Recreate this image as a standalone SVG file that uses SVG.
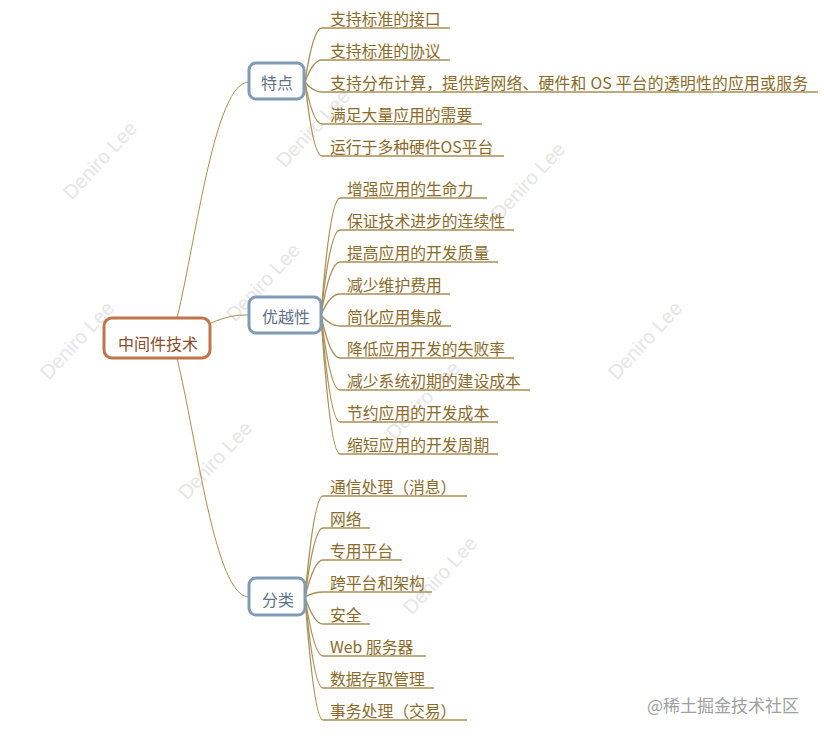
<svg xmlns="http://www.w3.org/2000/svg" width="824" height="736" viewBox="0 0 824 736">
<style>
.wm{font-family:"Liberation Sans",Arial,sans-serif;font-size:20px;fill:#e6e6e6}
.conn{fill:none;stroke:#a98f55;stroke-width:1}
.leafline{fill:none;stroke:#a98f55;stroke-width:1.3}
.leaf{font-family:"Noto Sans CJK SC","Microsoft YaHei",sans-serif;font-size:15.8px;fill:#8a6a28}
.root rect{fill:#fff;stroke:#c2744a;stroke-width:3}
.root text{font-family:"Noto Sans CJK SC","Microsoft YaHei",sans-serif;font-size:16px;fill:#8b4c2c;text-anchor:middle}
.branch rect{fill:#fff;stroke:#7f9bb6;stroke-width:3}
.branch text{font-family:"Noto Sans CJK SC","Microsoft YaHei",sans-serif;font-size:16px;fill:#5f7088;text-anchor:middle}
.credit{font-family:"Noto Sans CJK SC",sans-serif;font-size:17px;fill:#a0a0a0}
</style>
<rect width="824" height="736" fill="#fff"/>
<g id="watermarks">
<text class="wm" text-anchor="middle" transform="translate(105,165) rotate(-47)">Deniro Lee</text>
<text class="wm" text-anchor="middle" transform="translate(318,133) rotate(-47)">Deniro Lee</text>
<text class="wm" text-anchor="middle" transform="translate(533,186) rotate(-47)">Deniro Lee</text>
<text class="wm" text-anchor="middle" transform="translate(82,345) rotate(-47)">Deniro Lee</text>
<text class="wm" text-anchor="middle" transform="translate(268,287) rotate(-47)">Deniro Lee</text>
<text class="wm" text-anchor="middle" transform="translate(650,345) rotate(-47)">Deniro Lee</text>
<text class="wm" text-anchor="middle" transform="translate(428,405) rotate(-47)">Deniro Lee</text>
<text class="wm" text-anchor="middle" transform="translate(220,465) rotate(-47)">Deniro Lee</text>
<text class="wm" text-anchor="middle" transform="translate(445,580) rotate(-47)">Deniro Lee</text>
</g>
<g id="connectors">
<path class="conn" d="M177,318 C197,235 215,82 249,82"/>
<path class="conn" d="M211,323 C228,316 235,315 249,315"/>
<path class="conn" d="M177,358 C197,440 215,597 249,597"/>
<path class="leafline" d="M305,82 Q313,28 322,28 H450"/>
<path class="leafline" d="M305,82 Q313,60 322,60 H450"/>
<path class="leafline" d="M305,82 Q313,92 322,92 H818"/>
<path class="leafline" d="M305,82 Q313,124 322,124 H482"/>
<path class="leafline" d="M305,82 Q313,156 322,156 H504"/>
<path class="leafline" d="M321,315 Q330,198 340,198 H487"/>
<path class="leafline" d="M321,315 Q330,230 340,230 H514"/>
<path class="leafline" d="M321,315 Q330,262 340,262 H498"/>
<path class="leafline" d="M321,315 Q330,294 340,294 H450"/>
<path class="leafline" d="M321,315 Q330,326 340,326 H451"/>
<path class="leafline" d="M321,315 Q330,358 340,358 H514"/>
<path class="leafline" d="M321,315 Q330,390 340,390 H530"/>
<path class="leafline" d="M321,315 Q330,422 340,422 H498"/>
<path class="leafline" d="M321,315 Q330,454 340,454 H498"/>
<path class="leafline" d="M305,597 Q314,496 323,496 H467"/>
<path class="leafline" d="M305,597 Q314,528 323,528 H370"/>
<path class="leafline" d="M305,597 Q314,560 323,560 H402"/>
<path class="leafline" d="M305,597 Q314,592 323,592 H432"/>
<path class="leafline" d="M305,597 Q314,624 323,624 H370"/>
<path class="leafline" d="M305,597 Q314,656 323,656 H426"/>
<path class="leafline" d="M305,597 Q314,688 323,688 H434"/>
<path class="leafline" d="M305,597 Q314,720 323,720 H467"/>
</g>
<g id="root" class="root">
<rect x="104" y="318" width="106" height="40" rx="8"/>
<text x="158" y="350">中间件技术</text>
</g>
<g id="n-tedian" class="branch">
<rect x="249" y="63" width="55" height="36" rx="7"/>
<text x="277" y="89">特点</text>
</g>
<g id="n-youyuexing" class="branch">
<rect x="249" y="297" width="72" height="36" rx="7"/>
<text x="286" y="323">优越性</text>
</g>
<g id="n-fenlei" class="branch">
<rect x="249" y="578" width="56" height="37" rx="7"/>
<text x="278" y="606">分类</text>
</g>
<g id="leaves-tedian">
<text class="leaf" x="330" y="25">支持标准的接口</text>
<text class="leaf" x="330" y="57">支持标准的协议</text>
<text class="leaf" x="330" y="89" textLength="478" lengthAdjust="spacing">支持分布计算，提供跨网络、硬件和 OS 平台的透明性的应用或服务</text>
<text class="leaf" x="330" y="121">满足大量应用的需要</text>
<text class="leaf" x="330" y="153">运行于多种硬件OS平台</text>
</g>
<g id="leaves-youyuexing">
<text class="leaf" x="347" y="195">增强应用的生命力</text>
<text class="leaf" x="347" y="227">保证技术进步的连续性</text>
<text class="leaf" x="347" y="259">提高应用的开发质量</text>
<text class="leaf" x="347" y="291">减少维护费用</text>
<text class="leaf" x="347" y="323">简化应用集成</text>
<text class="leaf" x="347" y="355">降低应用开发的失败率</text>
<text class="leaf" x="347" y="387">减少系统初期的建设成本</text>
<text class="leaf" x="347" y="419">节约应用的开发成本</text>
<text class="leaf" x="347" y="451">缩短应用的开发周期</text>
</g>
<g id="leaves-fenlei">
<text class="leaf" x="330" y="493">通信处理（消息）</text>
<text class="leaf" x="330" y="525">网络</text>
<text class="leaf" x="330" y="557">专用平台</text>
<text class="leaf" x="330" y="589">跨平台和架构</text>
<text class="leaf" x="330" y="621">安全</text>
<text class="leaf" x="330" y="653">Web 服务器</text>
<text class="leaf" x="330" y="685">数据存取管理</text>
<text class="leaf" x="330" y="717">事务处理（交易）</text>
</g>
<text class="credit" x="647" y="712">@稀土掘金技术社区</text>
</svg>
